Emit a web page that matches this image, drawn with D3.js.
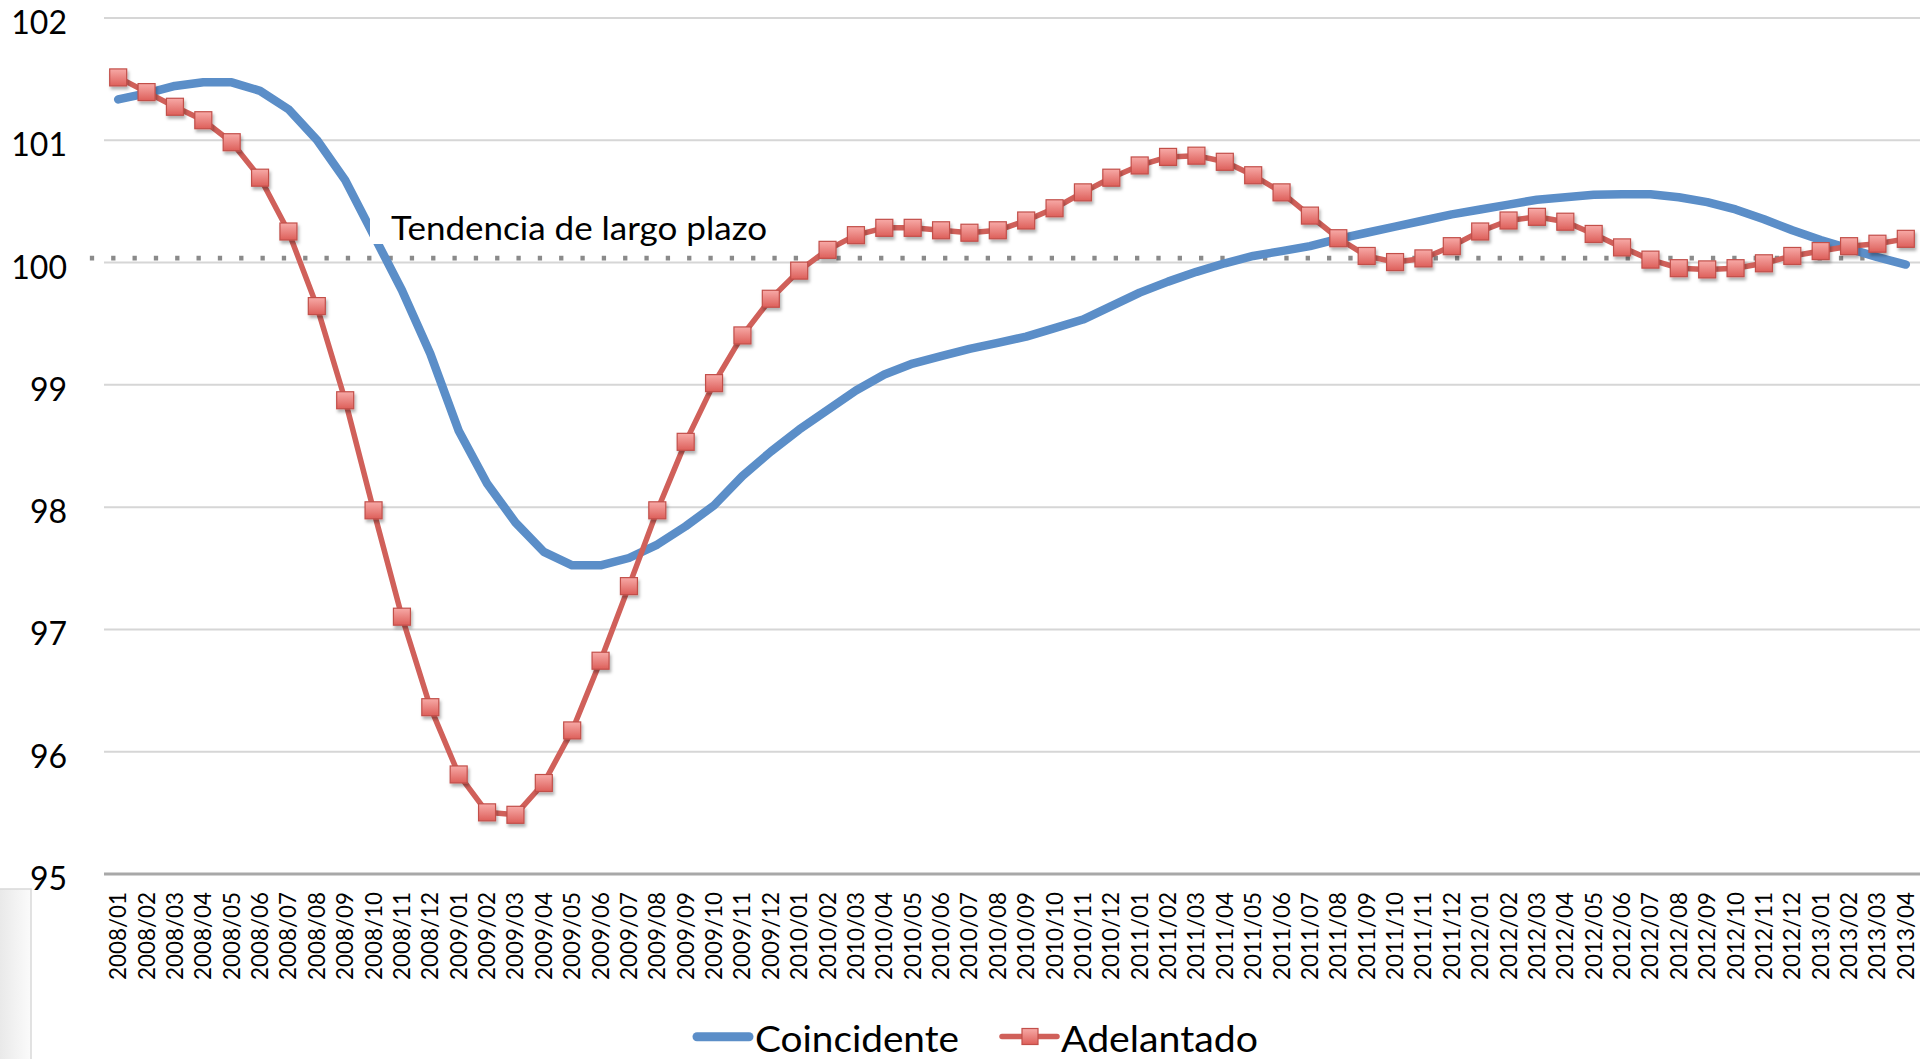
<!DOCTYPE html>
<html>
<head>
<meta charset="utf-8">
<script src="https://cdn.jsdelivr.net/npm/d3@7"></script>
<style>
  html, body { margin: 0; padding: 0; background: #fff; }
  svg { display: block; font-family: Lato, "Open Sans", sans-serif; }
</style>
</head>
<body>
<svg id="chart" width="1926" height="1059"></svg>
<script>
// Monthly categories
const months = [
  "2008/01","2008/02","2008/03","2008/04","2008/05","2008/06","2008/07","2008/08","2008/09","2008/10","2008/11","2008/12",
  "2009/01","2009/02","2009/03","2009/04","2009/05","2009/06","2009/07","2009/08","2009/09","2009/10","2009/11","2009/12",
  "2010/01","2010/02","2010/03","2010/04","2010/05","2010/06","2010/07","2010/08","2010/09","2010/10","2010/11","2010/12",
  "2011/01","2011/02","2011/03","2011/04","2011/05","2011/06","2011/07","2011/08","2011/09","2011/10","2011/11","2011/12",
  "2012/01","2012/02","2012/03","2012/04","2012/05","2012/06","2012/07","2012/08","2012/09","2012/10","2012/11","2012/12",
  "2013/01","2013/02","2013/03","2013/04"
];

// Coincident indicator
const coincidente = [
  101.33,101.38,101.44,101.47,101.47,101.40,101.25,101.00,100.67,100.22,99.77,99.25,
  98.62,98.19,97.87,97.63,97.52,97.52,97.58,97.69,97.84,98.01,98.25,98.45,
  98.63,98.79,98.95,99.08,99.17,99.23,99.29,99.34,99.39,99.46,99.53,99.64,
  99.75,99.84,99.92,99.99,100.05,100.09,100.13,100.19,100.24,100.29,100.34,100.39,
  100.43,100.47,100.51,100.53,100.55,100.555,100.555,100.53,100.49,100.43,100.35,100.26,
  100.18,100.11,100.04,99.98
];

// Leading indicator
const adelantado = [
  101.51,101.39,101.27,101.16,100.98,100.69,100.25,99.64,98.87,97.97,97.10,96.36,
  95.81,95.50,95.48,95.74,96.17,96.74,97.35,97.97,98.53,99.01,99.40,99.70,
  99.93,100.10,100.22,100.28,100.28,100.26,100.24,100.26,100.34,100.44,100.57,100.69,
  100.79,100.86,100.87,100.82,100.71,100.57,100.38,100.195,100.05,100.00,100.03,100.13,
  100.25,100.34,100.37,100.33,100.23,100.12,100.02,99.95,99.94,99.95,99.99,100.05,
  100.09,100.13,100.15,100.19
];

const yTicks = [95, 96, 97, 98, 99, 100, 101, 102];
const trendLevel = 100;
const trendLabel = "Tendencia de largo plazo";
const seriesNames = ["Coincidente", "Adelantado"];

const colors = { blue: "#5b8ec8", red: "#d0605a", redEdge: "#c24f4a" };

const svg = d3.select("#chart");
const plot = { left: 104, right: 1920, top: 17.5, bottom: 873.5 };

const x = d3.scaleBand().domain(months).range([plot.left, plot.right]);
const y = d3.scaleLinear().domain([95, 102]).range([plot.bottom, plot.top]);
const cx = m => x(m) + x.bandwidth() / 2;

// defs: marker gradient, drop shadow, left panel shade
const defs = svg.append("defs");
const mg = defs.append("linearGradient").attr("id", "mk").attr("x1", 0).attr("y1", 0).attr("x2", 0).attr("y2", 1);
mg.append("stop").attr("offset", "0%").attr("stop-color", "#f7aaa7");
mg.append("stop").attr("offset", "100%").attr("stop-color", "#dd5f5a");
const sh = defs.append("filter").attr("id", "shadow").attr("x", "-50%").attr("y", "-50%").attr("width", "200%").attr("height", "200%");
sh.append("feDropShadow").attr("dx", 1.5).attr("dy", 3).attr("stdDeviation", 1.8)
  .attr("flood-color", "#000").attr("flood-opacity", 0.3);
const pg = defs.append("linearGradient").attr("id", "panel").attr("x1", 0).attr("y1", 0).attr("x2", 1).attr("y2", 0);
pg.append("stop").attr("offset", "0%").attr("stop-color", "#e8e8e8");
pg.append("stop").attr("offset", "100%").attr("stop-color", "#fbfbfb");

// small shaded panel at the lower left edge
svg.append("rect").attr("x", -2).attr("y", 889).attr("width", 33).attr("height", 180)
  .attr("fill", "url(#panel)").attr("stroke", "#d9d9d9").attr("stroke-width", 1.5);

// Y axis with horizontal gridlines
const yAxis = svg.append("g")
  .attr("transform", `translate(${plot.left},0)`)
  .call(d3.axisLeft(y).tickValues(yTicks).tickFormat(d3.format("d"))
    .tickSize(-(plot.right - plot.left)).tickPadding(37));
yAxis.select(".domain").remove();
yAxis.selectAll(".tick line")
  .attr("stroke", d => d === 95 ? "#a8a8a8" : "#d6d6d6")
  .attr("stroke-width", d => d === 95 ? 3 : 2);
yAxis.selectAll(".tick text")
  .attr("font-family", "Lato, sans-serif").attr("font-size", 32)
  .attr("fill", "#000").attr("dy", "0.5em");

// X axis: rotated month labels
const xAxis = svg.append("g")
  .attr("transform", `translate(0,${plot.bottom})`)
  .call(d3.axisBottom(x).tickSize(0));
xAxis.select(".domain").remove();
xAxis.selectAll(".tick text")
  .attr("font-family", "Lato, sans-serif").attr("font-size", 22.4).attr("fill", "#000")
  .attr("x", 0).attr("y", 0).attr("dy", 0)
  .attr("text-anchor", "end")
  .attr("transform", "translate(8,18.5) rotate(-90)");

// Long-term trend (dotted)
const trendY = y(trendLevel) - 4;
svg.append("line")
  .attr("x1", 89.85).attr("x2", 1887).attr("y1", trendY).attr("y2", trendY)
  .attr("stroke", "#8a8a8a").attr("stroke-width", 4.7)
  .attr("stroke-dasharray", "4.3 17.03");

// Coincident series
const line = d3.line().x((d, i) => cx(months[i])).y(d => y(d));
svg.append("path").datum(coincidente)
  .attr("d", line).attr("fill", "none")
  .attr("stroke", colors.blue).attr("stroke-width", 8.5)
  .attr("stroke-linejoin", "round").attr("stroke-linecap", "round");

// Leading series with square markers
svg.append("path").datum(adelantado)
  .attr("d", line).attr("fill", "none")
  .attr("stroke", colors.red).attr("stroke-width", 5.5)
  .attr("stroke-linejoin", "round");
const ms = 17;
svg.append("g").selectAll("rect").data(adelantado).join("rect")
  .attr("x", (d, i) => cx(months[i]) - ms / 2)
  .attr("y", d => y(d) - ms / 2)
  .attr("width", ms).attr("height", ms)
  .attr("fill", "url(#mk)").attr("stroke", colors.redEdge).attr("stroke-width", 1.2)
  .attr("filter", "url(#shadow)");

// Trend label on a white box
svg.append("rect").attr("x", 370).attr("y", 200).attr("width", 420).attr("height", 44).attr("fill", "#fff");
svg.append("text").attr("x", 391).attr("y", 240)
  .attr("font-size", 32.5).attr("fill", "#000")
  .attr("textLength", 376).attr("lengthAdjust", "spacingAndGlyphs")
  .text(trendLabel);

// Legend
const lg = svg.append("g");
lg.append("line").attr("x1", 697).attr("x2", 749).attr("y1", 1036.7).attr("y2", 1036.7)
  .attr("stroke", colors.blue).attr("stroke-width", 9).attr("stroke-linecap", "round");
lg.append("text").attr("x", 755).attr("y", 1051.5).attr("font-size", 37).attr("fill", "#000")
  .attr("textLength", 204).attr("lengthAdjust", "spacingAndGlyphs").text(seriesNames[0]);
lg.append("line").attr("x1", 1002).attr("x2", 1057).attr("y1", 1036.5).attr("y2", 1036.5)
  .attr("stroke", colors.red).attr("stroke-width", 5.5).attr("stroke-linecap", "round");
lg.append("rect").attr("x", 1022).attr("y", 1028.5).attr("width", 16).attr("height", 16)
  .attr("fill", "url(#mk)").attr("stroke", colors.redEdge).attr("stroke-width", 1.2);
lg.append("text").attr("x", 1061).attr("y", 1051.5).attr("font-size", 37).attr("fill", "#000")
  .attr("textLength", 197).attr("lengthAdjust", "spacingAndGlyphs").text(seriesNames[1]);
</script>
</body>
</html>
